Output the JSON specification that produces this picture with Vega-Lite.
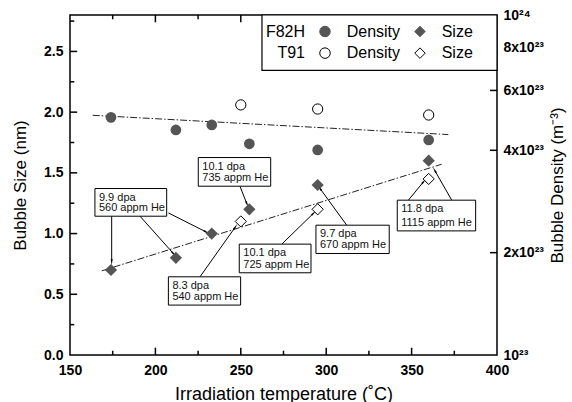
{
  "$schema": "https://vega.github.io/schema/vega-lite/v6.json",
  "width": 427,
  "height": 340,
  "autosize": {"type": "none"},
  "padding": {"left": 70, "top": 15, "right": 75, "bottom": 47},
  "background": "white",
  "config": {
    "view": {"stroke": "#000", "strokeWidth": 1.5},
    "font": "Liberation Sans",
    "axis": {
      "grid": false,
      "domain": false,
      "ticks": false,
      "labelFont": "Liberation Sans",
      "labelFontWeight": "bold",
      "labelFontSize": 14,
      "labelColor": "#000",
      "labelOverlap": false,
      "labelFlush": false,
      "titleFont": "Liberation Sans",
      "titleFontWeight": "normal",
      "titleFontSize": 18,
      "titleColor": "#000"
    }
  },
  "datasets": {
    "f82h": [
      {"t": 174, "size": 0.70, "dens": 5.0e23},
      {"t": 212, "size": 0.80, "dens": 4.59e23},
      {"t": 233, "size": 1.00, "dens": 4.75e23},
      {"t": 255, "size": 1.20, "dens": 4.18e23},
      {"t": 295, "size": 1.40, "dens": 4.01e23},
      {"t": 360, "size": 1.60, "dens": 4.29e23}
    ],
    "t91": [
      {"t": 250, "size": 1.10, "dens": 5.44e23},
      {"t": 295, "size": 1.20, "dens": 5.29e23},
      {"t": 360, "size": 1.45, "dens": 5.08e23}
    ],
    "sizefit": [
      {"t": 168.6, "size": 0.693},
      {"t": 367.6, "size": 1.571}
    ],
    "densfit": [
      {"t": 163.3, "dens": 5.07e23},
      {"t": 371.5, "dens": 4.45e23}
    ],
    "xticks": [
      {"t": 175, "major": false}, {"t": 200, "major": true}, {"t": 225, "major": false},
      {"t": 250, "major": true}, {"t": 275, "major": false}, {"t": 300, "major": true},
      {"t": 325, "major": false}, {"t": 350, "major": true}, {"t": 375, "major": false}
    ],
    "sticks": [
      {"s": 0.25, "major": false}, {"s": 0.5, "major": true}, {"s": 0.75, "major": false},
      {"s": 1.0, "major": true}, {"s": 1.25, "major": false}, {"s": 1.5, "major": true},
      {"s": 1.75, "major": false}, {"s": 2.0, "major": true}, {"s": 2.25, "major": false},
      {"s": 2.5, "major": true}, {"s": 2.75, "major": false}
    ],
    "dticks": [
      {"d": 2e23}, {"d": 4e23}, {"d": 6e23}, {"d": 8e23}
    ],
    "boxes": [
      {"x1": 164.6, "x2": 206.6, "ytop": 1.371, "ybot": 1.143, "l1": "9.9 dpa", "l2": "560 appm He"},
      {"x1": 225.1, "x2": 267.5, "ytop": 1.626, "ybot": 1.390, "l1": "10.1 dpa", "l2": "735 appm He"},
      {"x1": 207.6, "x2": 249.9, "ytop": 0.644, "ybot": 0.411, "l1": "8.3 dpa", "l2": "540 appm He"},
      {"x1": 249.1, "x2": 291.1, "ytop": 0.913, "ybot": 0.677, "l1": "10.1 dpa", "l2": "725 appm He"},
      {"x1": 294.0, "x2": 336.9, "ytop": 1.069, "ybot": 0.836, "l1": "9.7 dpa", "l2": "670 appm He"},
      {"x1": 341.6, "x2": 387.5, "ytop": 1.275, "ybot": 1.022, "l1": "11.8 dpa", "l2": "1115 appm He"}
    ],
    "arrows": [
      {"t1": 174.4, "s1": 1.143, "t2": 174.4, "s2": 0.773},
      {"t1": 191.0, "s1": 1.143, "t2": 210.5, "s2": 0.836},
      {"t1": 207.6, "s1": 1.170, "t2": 229.6, "s2": 1.014},
      {"t1": 249.5, "s1": 1.390, "t2": 253.5, "s2": 1.248},
      {"t1": 226.1, "s1": 0.644, "t2": 246.6, "s2": 1.050},
      {"t1": 274.0, "s1": 0.913, "t2": 292.4, "s2": 1.165},
      {"t1": 312.0, "s1": 1.069, "t2": 296.4, "s2": 1.371},
      {"t1": 348.1, "s1": 1.275, "t2": 356.9, "s2": 1.425},
      {"t1": 373.5, "s1": 1.275, "t2": 363.7, "s2": 1.516}
    ],
    "legendbox": [
      {"x1": 262.4, "x2": 400, "ytop": 2.8, "ybot": 2.344}
    ],
    "legendrows": [
      {"steel": "F82H", "t": 287.6, "s": 2.664},
      {"steel": "T91", "t": 287.6, "s": 2.486}
    ],
    "legendlabels": [
      {"label": "Density", "t": 312, "s": 2.664},
      {"label": "Size", "t": 367.6, "s": 2.664},
      {"label": "Density", "t": 312, "s": 2.486},
      {"label": "Size", "t": 367.6, "s": 2.486}
    ],
    "legendsym": [
      {"steel": "F82H", "kind": "Density", "t": 299.3, "s": 2.664},
      {"steel": "F82H", "kind": "Size", "t": 354.9, "s": 2.664},
      {"steel": "T91", "kind": "Density", "t": 299.3, "s": 2.486},
      {"steel": "T91", "kind": "Size", "t": 354.9, "s": 2.486}
    ]
  },
  "resolve": {
    "scale": {"y": "independent"},
    "axis": {"x": "independent", "y": "independent"}
  },
  "layer": [
    {
      "data": {"name": "sizefit"},
      "mark": {"type": "line", "color": "#222", "strokeWidth": 1, "strokeDash": [7, 2, 1.5, 2]},
      "encoding": {
        "x": {"field": "t", "type": "quantitative", "scale": {"domain": [150, 400], "nice": false, "zero": false},
          "axis": {"orient": "bottom", "values": [150, 200, 250, 300, 350, 400], "format": "d",
            "labelPadding": 8, "title": "Irradiation temperature (˚C)", "titlePadding": 8}},
        "y": {"field": "size", "type": "quantitative", "scale": {"domain": [0, 2.8], "nice": false, "zero": false},
          "axis": {"orient": "left", "values": [0, 0.5, 1, 1.5, 2, 2.5], "format": ".1f",
            "labelPadding": 7, "title": "Bubble Size (nm)", "titleFontSize": 17, "titlePadding": 14}}
      }
    },
    {
      "data": {"name": "densfit"},
      "mark": {"type": "line", "color": "#222", "strokeWidth": 1, "strokeDash": [7, 2, 1.5, 2]},
      "encoding": {
        "x": {"field": "t", "type": "quantitative", "scale": {"domain": [150, 400], "nice": false, "zero": false}, "axis": null},
        "y": {"field": "dens", "type": "quantitative", "scale": {"type": "log", "domain": [1e23, 1e24], "nice": false},
          "axis": {"orient": "right", "values": [1e23, 2e23, 4e23, 6e23, 8e23, 1e24],
            "labelExpr": "datum.value > 9.9e23 ? '10²⁴' : (datum.value < 1.5e23 ? '10²³' : format(round(datum.value / 1e23), 'd') + 'x10²³')",
            "labelPadding": 6, "title": "Bubble Density (m⁻³)", "titleFontSize": 17,
            "titleAngle": 270, "titleBaseline": "top", "titlePadding": 6}}
      }
    },
    {
      "data": {"name": "xticks"},
      "transform": [
        {"calculate": "0", "as": "b0"},
        {"calculate": "datum.major ? 0.06 : 0.035", "as": "b1"},
        {"calculate": "2.8", "as": "u0"},
        {"calculate": "datum.major ? 2.74 : 2.765", "as": "u1"}
      ],
      "layer": [
        {
          "mark": {"type": "rule", "color": "#000", "strokeWidth": 1.5},
          "encoding": {
            "x": {"field": "t", "type": "quantitative", "scale": {"domain": [150, 400], "nice": false, "zero": false}, "axis": null},
            "y": {"field": "b0", "type": "quantitative", "scale": {"domain": [0, 2.8], "nice": false, "zero": false}, "axis": null},
            "y2": {"field": "b1"}
          }
        },
        {
          "mark": {"type": "rule", "color": "#000", "strokeWidth": 1.5},
          "encoding": {
            "x": {"field": "t", "type": "quantitative", "scale": {"domain": [150, 400], "nice": false, "zero": false}, "axis": null},
            "y": {"field": "u0", "type": "quantitative", "scale": {"domain": [0, 2.8], "nice": false, "zero": false}, "axis": null},
            "y2": {"field": "u1"}
          }
        }
      ]
    },
    {
      "data": {"name": "sticks"},
      "transform": [{"filter": "datum.major"}],
      "mark": {"type": "rule", "color": "#000", "strokeWidth": 1.5},
      "encoding": {
        "y": {"field": "s", "type": "quantitative", "scale": {"domain": [0, 2.8], "nice": false, "zero": false}, "axis": null},
        "x": {"datum": 150, "type": "quantitative", "scale": {"domain": [150, 400], "nice": false, "zero": false}, "axis": null},
        "x2": {"datum": 154.2}
      }
    },
    {
      "data": {"name": "sticks"},
      "transform": [{"filter": "!datum.major"}],
      "mark": {"type": "rule", "color": "#000", "strokeWidth": 1.5},
      "encoding": {
        "y": {"field": "s", "type": "quantitative", "scale": {"domain": [0, 2.8], "nice": false, "zero": false}, "axis": null},
        "x": {"datum": 150, "type": "quantitative", "scale": {"domain": [150, 400], "nice": false, "zero": false}, "axis": null},
        "x2": {"datum": 152.5}
      }
    },
    {
      "data": {"name": "dticks"},
      "mark": {"type": "rule", "color": "#000", "strokeWidth": 1.5},
      "encoding": {
        "y": {"field": "d", "type": "quantitative", "scale": {"type": "log", "domain": [1e23, 1e24], "nice": false}, "axis": null},
        "x": {"datum": 400, "type": "quantitative", "scale": {"domain": [150, 400], "nice": false, "zero": false}, "axis": null},
        "x2": {"datum": 395.9}
      }
    },
    {
      "data": {"name": "arrows"},
      "mark": {"type": "rule", "color": "#000", "strokeWidth": 1},
      "encoding": {
        "x": {"field": "t1", "type": "quantitative", "scale": {"domain": [150, 400], "nice": false, "zero": false}, "axis": null},
        "x2": {"field": "t2"},
        "y": {"field": "s1", "type": "quantitative", "scale": {"domain": [0, 2.8], "nice": false, "zero": false}, "axis": null},
        "y2": {"field": "s2"}
      }
    },
    {
      "data": {"name": "arrows"},
      "transform": [{"calculate": "atan2((datum.t2 - datum.t1) * 1.708, (datum.s2 - datum.s1) * 121.43) * 180 / PI", "as": "ang"}],
      "mark": {"type": "point", "shape": "wedge", "filled": true, "color": "#000", "size": 60, "opacity": 1},
      "encoding": {
        "x": {"field": "t2", "type": "quantitative", "scale": {"domain": [150, 400], "nice": false, "zero": false}, "axis": null},
        "y": {"field": "s2", "type": "quantitative", "scale": {"domain": [0, 2.8], "nice": false, "zero": false}, "axis": null},
        "angle": {"field": "ang", "type": "quantitative", "scale": null}
      }
    },
    {
      "data": {"name": "f82h"},
      "mark": {"type": "point", "shape": "circle", "filled": true, "color": "#555", "size": 115, "opacity": 1},
      "encoding": {
        "x": {"field": "t", "type": "quantitative", "scale": {"domain": [150, 400], "nice": false, "zero": false}, "axis": null},
        "y": {"field": "dens", "type": "quantitative", "scale": {"type": "log", "domain": [1e23, 1e24], "nice": false}, "axis": null}
      }
    },
    {
      "data": {"name": "t91"},
      "mark": {"type": "point", "shape": "circle", "filled": true, "fill": "#fff", "stroke": "#000", "strokeWidth": 1, "size": 105, "opacity": 1},
      "encoding": {
        "x": {"field": "t", "type": "quantitative", "scale": {"domain": [150, 400], "nice": false, "zero": false}, "axis": null},
        "y": {"field": "dens", "type": "quantitative", "scale": {"type": "log", "domain": [1e23, 1e24], "nice": false}, "axis": null}
      }
    },
    {
      "data": {"name": "f82h"},
      "mark": {"type": "point", "shape": "diamond", "filled": true, "color": "#555", "size": 150, "opacity": 1},
      "encoding": {
        "x": {"field": "t", "type": "quantitative", "scale": {"domain": [150, 400], "nice": false, "zero": false}, "axis": null},
        "y": {"field": "size", "type": "quantitative", "scale": {"domain": [0, 2.8], "nice": false, "zero": false}, "axis": null}
      }
    },
    {
      "data": {"name": "t91"},
      "mark": {"type": "point", "shape": "diamond", "filled": true, "fill": "#fff", "stroke": "#000", "strokeWidth": 1, "size": 125, "opacity": 1},
      "encoding": {
        "x": {"field": "t", "type": "quantitative", "scale": {"domain": [150, 400], "nice": false, "zero": false}, "axis": null},
        "y": {"field": "size", "type": "quantitative", "scale": {"domain": [0, 2.8], "nice": false, "zero": false}, "axis": null}
      }
    },
    {
      "data": {"name": "boxes"},
      "mark": {"type": "rect", "fill": "#fff", "stroke": "#000", "strokeWidth": 1},
      "encoding": {
        "x": {"field": "x1", "type": "quantitative", "scale": {"domain": [150, 400], "nice": false, "zero": false}, "axis": null},
        "x2": {"field": "x2"},
        "y": {"field": "ytop", "type": "quantitative", "scale": {"domain": [0, 2.8], "nice": false, "zero": false}, "axis": null},
        "y2": {"field": "ybot"}
      }
    },
    {
      "data": {"name": "boxes"},
      "mark": {"type": "text", "align": "left", "baseline": "top", "dx": 4, "dy": 3, "fontSize": 11, "color": "#111"},
      "encoding": {
        "x": {"field": "x1", "type": "quantitative", "scale": {"domain": [150, 400], "nice": false, "zero": false}, "axis": null},
        "y": {"field": "ytop", "type": "quantitative", "scale": {"domain": [0, 2.8], "nice": false, "zero": false}, "axis": null},
        "text": {"field": "l1"}
      }
    },
    {
      "data": {"name": "boxes"},
      "mark": {"type": "text", "align": "left", "baseline": "bottom", "dx": 4, "dy": -3, "fontSize": 11, "color": "#111"},
      "encoding": {
        "x": {"field": "x1", "type": "quantitative", "scale": {"domain": [150, 400], "nice": false, "zero": false}, "axis": null},
        "y": {"field": "ybot", "type": "quantitative", "scale": {"domain": [0, 2.8], "nice": false, "zero": false}, "axis": null},
        "text": {"field": "l2"}
      }
    },
    {
      "data": {"name": "legendbox"},
      "mark": {"type": "rect", "fill": "#fff", "stroke": "#000", "strokeWidth": 1.2},
      "encoding": {
        "x": {"field": "x1", "type": "quantitative", "scale": {"domain": [150, 400], "nice": false, "zero": false}, "axis": null},
        "x2": {"field": "x2"},
        "y": {"field": "ytop", "type": "quantitative", "scale": {"domain": [0, 2.8], "nice": false, "zero": false}, "axis": null},
        "y2": {"field": "ybot"}
      }
    },
    {
      "data": {"name": "legendrows"},
      "mark": {"type": "text", "align": "right", "baseline": "middle", "fontSize": 16, "color": "#000"},
      "encoding": {
        "x": {"field": "t", "type": "quantitative", "scale": {"domain": [150, 400], "nice": false, "zero": false}, "axis": null},
        "y": {"field": "s", "type": "quantitative", "scale": {"domain": [0, 2.8], "nice": false, "zero": false}, "axis": null},
        "text": {"field": "steel"}
      }
    },
    {
      "data": {"name": "legendlabels"},
      "mark": {"type": "text", "align": "left", "baseline": "middle", "fontSize": 16, "color": "#000"},
      "encoding": {
        "x": {"field": "t", "type": "quantitative", "scale": {"domain": [150, 400], "nice": false, "zero": false}, "axis": null},
        "y": {"field": "s", "type": "quantitative", "scale": {"domain": [0, 2.8], "nice": false, "zero": false}, "axis": null},
        "text": {"field": "label"}
      }
    },
    {
      "data": {"name": "legendsym"},
      "mark": {"type": "point", "filled": true, "strokeWidth": 1, "opacity": 1, "size": 110},
      "encoding": {
        "x": {"field": "t", "type": "quantitative", "scale": {"domain": [150, 400], "nice": false, "zero": false}, "axis": null},
        "y": {"field": "s", "type": "quantitative", "scale": {"domain": [0, 2.8], "nice": false, "zero": false}, "axis": null},
        "shape": {"field": "kind", "type": "nominal", "scale": {"domain": ["Density", "Size"], "range": ["circle", "diamond"]}, "legend": null},
        "fill": {"field": "steel", "type": "nominal", "scale": {"domain": ["F82H", "T91"], "range": ["#555", "#fff"]}, "legend": null},
        "stroke": {"field": "steel", "type": "nominal", "scale": {"domain": ["F82H", "T91"], "range": ["#555", "#000"]}, "legend": null}
      }
    }
  ]
}
